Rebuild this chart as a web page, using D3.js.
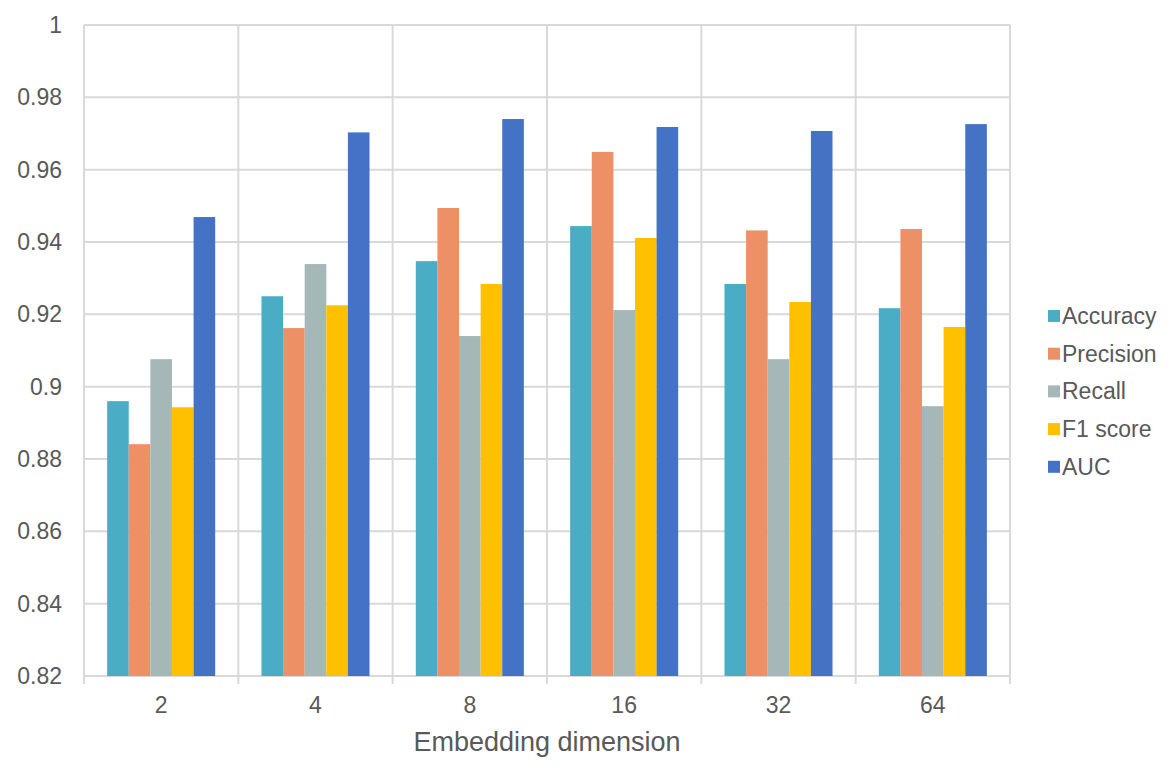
<!DOCTYPE html>
<html>
<head>
<meta charset="utf-8">
<script src="https://cdn.jsdelivr.net/npm/d3@7"></script>
<style>
  body { margin: 0; background: #fff; }
  text { font-family: "Liberation Sans", Arial, sans-serif; fill: #595959; }
</style>
</head>
<body>
<div id="chart"></div>
<script>
// Chart data
const dims = ["2", "4", "8", "16", "32", "64"];
const metrics = ["Accuracy", "Precision", "Recall", "F1 score", "AUC"];
const accuracy  = [0.896, 0.925, 0.9347, 0.9444, 0.9284, 0.9217];
const precision = [0.8841, 0.9162, 0.9494, 0.9649, 0.9432, 0.9436];
const recall    = [0.9076, 0.9339, 0.914, 0.9212, 0.9076, 0.8946];
const f1score   = [0.8943, 0.9225, 0.9284, 0.9411, 0.9234, 0.9165];
const auc       = [0.9469, 0.9703, 0.974, 0.9718, 0.9707, 0.9726];
const yTicks = [0.82, 0.84, 0.86, 0.88, 0.9, 0.92, 0.94, 0.96, 0.98, 1];
const colors = ["#4BACC6", "#EE9066", "#A5B8B7", "#FFC000", "#4472C4"];

const width = 1176;
const height = 783;
const margin = { top: 25, right: 166, bottom: 107, left: 84 };

const series = [accuracy, precision, recall, f1score, auc];

const svg = d3.select("#chart")
    .append("svg")
    .attr("width", width)
    .attr("height", height);

const x0 = d3.scaleBand()
    .domain(dims)
    .range([margin.left, width - margin.right])
    .paddingInner(0.3)
    .paddingOuter(0.15);

const x1 = d3.scaleBand()
    .domain(metrics)
    .range([0, x0.bandwidth()]);

const y = d3.scaleLinear()
    .domain([0.82, 1])
    .range([height - margin.bottom, margin.top]);

const step = x0.step();
const bounds = d3.range(dims.length + 1).map(i => margin.left + i * step);

// horizontal gridlines
svg.append("g")
    .selectAll("line")
    .data(yTicks)
    .enter()
    .append("line")
    .attr("x1", margin.left)
    .attr("x2", width - margin.right)
    .attr("y1", d => y(d))
    .attr("y2", d => y(d))
    .attr("stroke", "#D9D9D9")
    .attr("stroke-width", 2);

// vertical gridlines between categories (plus tick marks below axis)
svg.append("g")
    .selectAll("line")
    .data(bounds)
    .enter()
    .append("line")
    .attr("x1", d => d)
    .attr("x2", d => d)
    .attr("y1", margin.top)
    .attr("y2", height - margin.bottom + 8)
    .attr("stroke", "#D9D9D9")
    .attr("stroke-width", 2);

// bars
const groups = svg.append("g")
    .selectAll("g")
    .data(dims)
    .enter()
    .append("g")
    .attr("transform", d => `translate(${x0(d)},0)`);

groups.selectAll("rect")
    .data((d, i) => metrics.map((m, j) => ({ metric: m, value: series[j][i], color: colors[j] })))
    .enter()
    .append("rect")
    .attr("x", d => x1(d.metric))
    .attr("y", d => y(d.value))
    .attr("width", x1.bandwidth())
    .attr("height", d => y(0.82) - y(d.value))
    .attr("fill", d => d.color);

// y tick labels
svg.append("g")
    .selectAll("text")
    .data(yTicks)
    .enter()
    .append("text")
    .attr("x", 62)
    .attr("y", d => y(d))
    .attr("dy", "0.35em")
    .attr("text-anchor", "end")
    .attr("font-size", "23px")
    .text(d => d3.format("")(+d.toFixed(2)));

// x tick labels
svg.append("g")
    .selectAll("text")
    .data(dims)
    .enter()
    .append("text")
    .attr("x", d => x0(d) + x0.bandwidth() / 2)
    .attr("y", 713)
    .attr("text-anchor", "middle")
    .attr("font-size", "23px")
    .text(d => d);

// x axis title
svg.append("text")
    .attr("x", (margin.left + width - margin.right) / 2)
    .attr("y", 751)
    .attr("text-anchor", "middle")
    .attr("font-size", "27px")
    .text("Embedding dimension");

// legend
const legend = svg.append("g")
    .selectAll("g")
    .data(metrics)
    .enter()
    .append("g")
    .attr("transform", (d, i) => `translate(1048,${316 + i * 37.7})`);

legend.append("rect")
    .attr("x", 0)
    .attr("y", -6)
    .attr("width", 12)
    .attr("height", 12)
    .attr("fill", (d, i) => colors[i]);

legend.append("text")
    .attr("x", 14)
    .attr("y", 0)
    .attr("dy", "0.35em")
    .attr("font-size", "23px")
    .text(d => d);
</script>
</body>
</html>
